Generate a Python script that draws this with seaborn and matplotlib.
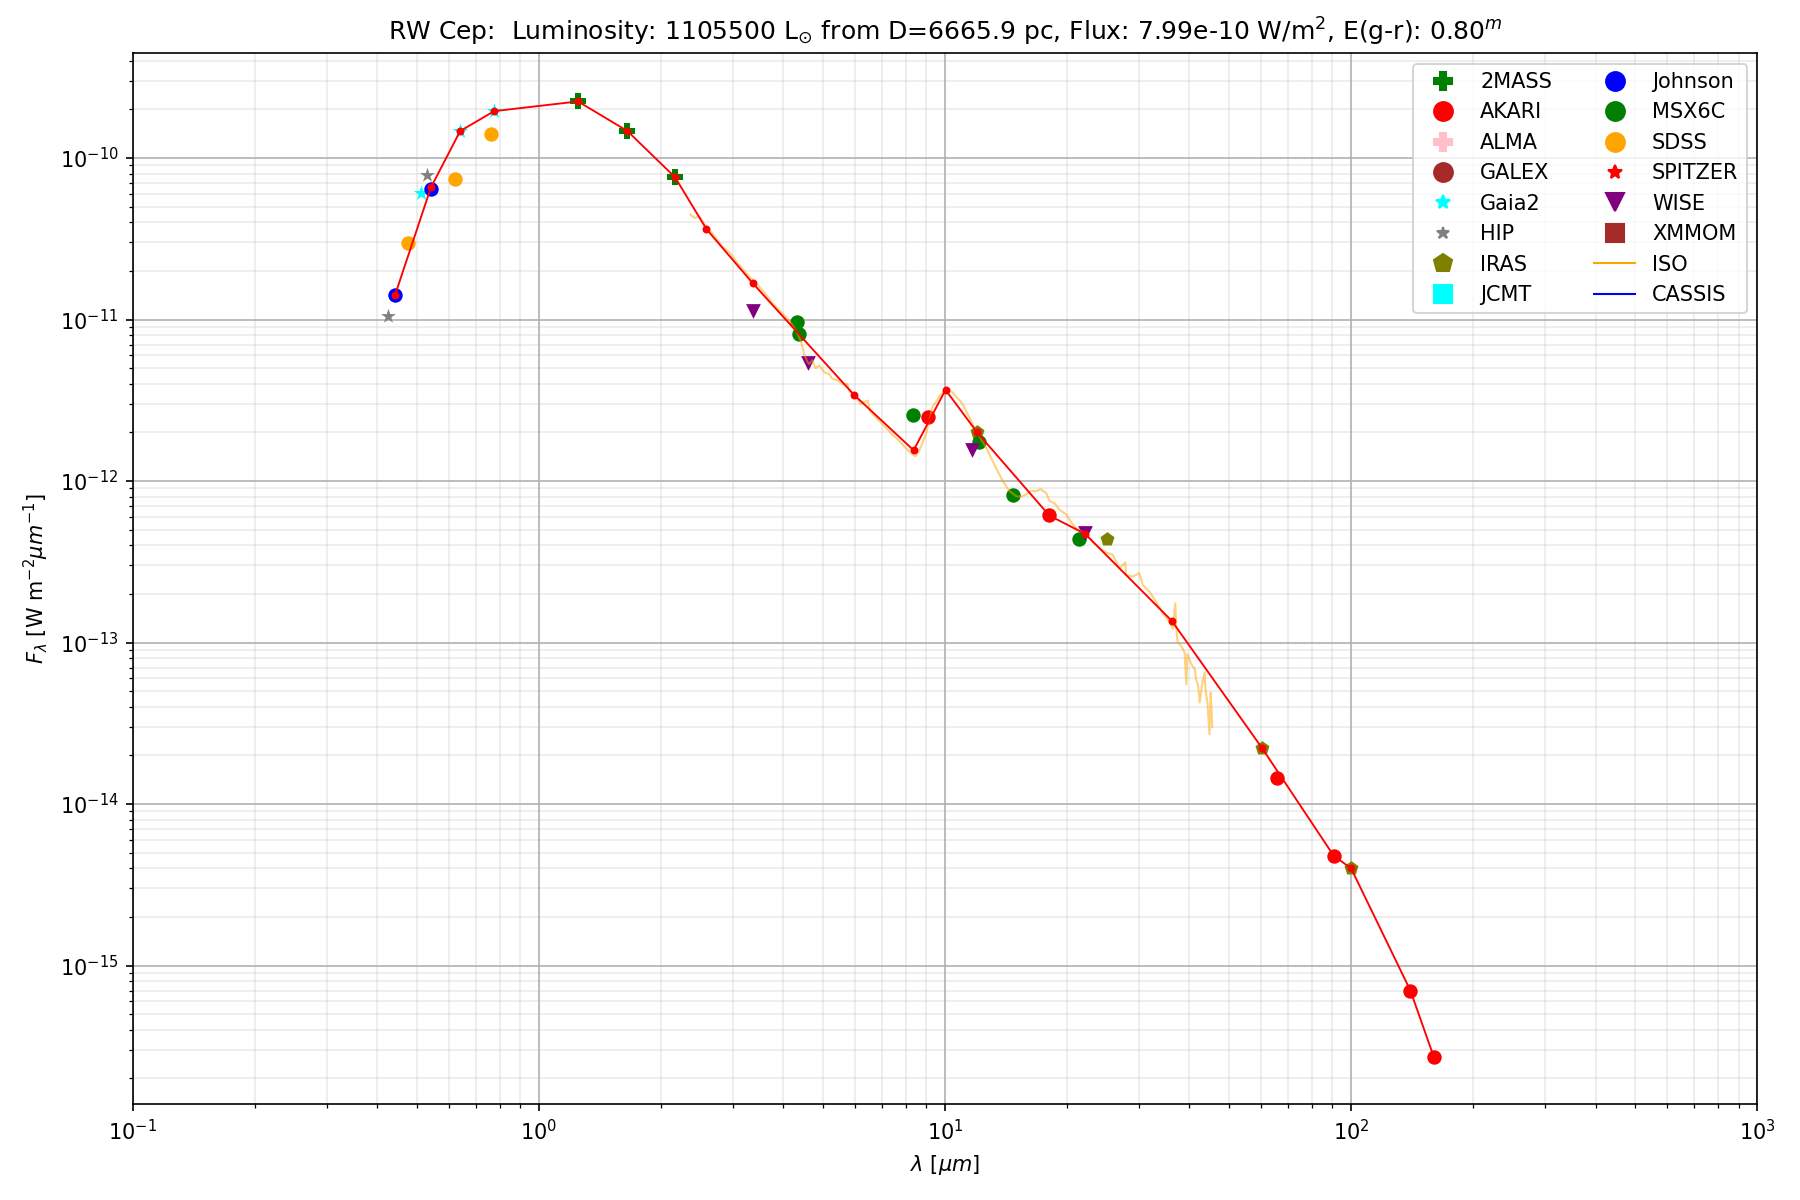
import matplotlib
matplotlib.use("Agg")
import matplotlib.pyplot as plt
from matplotlib.lines import Line2D
import seaborn as sns

plt.rcParams["font.size"] = 10

# photometry (wavelength in micron, flux in W m-2 um-1)
johnson_wl = [0.442, 0.542]
johnson_flux = [1.41e-11, 6.4e-11]
hip_wl = [0.425, 0.530]
hip_flux = [1.05e-11, 7.9e-11]
gaia_wl = [0.513, 0.640, 0.776]
gaia_flux = [6.1e-11, 1.47e-10, 1.95e-10]
sdss_wl = [0.476, 0.622, 0.763]
sdss_flux = [2.97e-11, 7.44e-11, 1.40e-10]
tmass_wl = [1.248, 1.651, 2.164]
tmass_flux = [2.24e-10, 1.47e-10, 7.6e-11]
wise_wl = [3.36, 4.61, 11.63, 22.15]
wise_flux = [1.13e-11, 5.37e-12, 1.55e-12, 4.75e-13]
msx_wl = [4.31, 4.36, 8.32, 12.1, 14.73, 21.4]
msx_flux = [9.66e-12, 8.18e-12, 2.56e-12, 1.75e-12, 8.24e-13, 4.39e-13]
akari_wl = [9.06, 18.06, 65.7, 90.6, 140.0, 160.0]
akari_flux = [2.5e-12, 6.12e-13, 1.46e-14, 4.79e-15, 7.0e-16, 2.7e-16]
iras_wl = [12.0, 25.1, 60.3, 100.0]
iras_flux = [2.01e-12, 4.35e-13, 2.23e-14, 4.0e-15]

# SED line (red)
sed_wl = [0.442, 0.542, 0.640, 0.776, 1.248, 1.651, 2.164, 2.585, 3.36, 5.96,
          8.37, 10.03, 12.0, 18.06, 22.15, 36.2, 60.3, 90.6, 100.0, 140.0, 160.0]
sed_flux = [1.41e-11, 6.57e-11, 1.47e-10, 1.95e-10, 2.24e-10, 1.47e-10, 7.6e-11,
            3.63e-11, 1.68e-11, 3.43e-12, 1.55e-12, 3.67e-12, 2.0e-12, 6.12e-13,
            4.7e-13, 1.36e-13, 2.23e-14, 4.79e-15, 4.0e-15, 7.0e-16, 2.7e-16]

# ISO spectrum
iso_wl = [2.36, 2.42, 2.48, 2.58, 2.70, 2.82, 2.94, 3.10, 3.30, 3.55, 3.75, 3.91,
          4.05, 4.21, 4.33, 4.42, 4.50, 4.58, 4.63, 4.71, 4.80, 4.90, 5.05, 5.18,
          5.28, 5.45, 5.60, 5.75, 5.82, 6.04, 6.20, 6.45, 6.55, 6.63, 6.90, 7.15,
          7.45, 7.72, 8.00, 8.32, 8.45, 8.64, 8.98, 9.31, 9.70, 10.06, 10.44, 11.05,
          11.48, 11.92, 12.30, 12.62, 13.10, 13.87, 14.40, 14.96, 15.40, 15.85,
          16.30, 16.76, 17.20, 17.74, 18.10, 18.60, 19.13, 19.90, 20.40, 21.00,
          21.60, 22.26, 23.10, 24.00, 25.00, 25.90, 26.90, 27.80, 27.90, 29.00,
          30.10, 30.70, 31.90, 33.10, 34.40, 35.70, 36.40, 36.90, 37.10, 37.40,
          38.20, 38.90, 39.30, 39.50, 39.90, 40.60, 41.20, 41.50, 42.00, 42.40,
          43.00, 43.60, 43.80, 44.30, 44.80, 45.10, 45.40, 45.50]
iso_flux = [4.46e-11, 4.25e-11, 4.36e-11, 3.77e-11, 3.30e-11, 2.85e-11, 2.62e-11,
            2.20e-11, 1.84e-11, 1.52e-11, 1.27e-11, 1.14e-11, 1.04e-11, 9.3e-12,
            8.2e-12, 7.3e-12, 6.1e-12, 5.5e-12, 5.3e-12, 5.6e-12, 5.0e-12, 5.2e-12,
            4.7e-12, 4.6e-12, 4.3e-12, 4.2e-12, 3.95e-12, 4.0e-12, 3.6e-12, 3.3e-12,
            3.0e-12, 3.15e-12, 2.7e-12, 2.6e-12, 2.35e-12, 2.14e-12, 1.92e-12,
            1.77e-12, 1.60e-12, 1.46e-12, 1.42e-12, 1.54e-12, 1.95e-12, 2.86e-12,
            3.35e-12, 3.72e-12, 3.54e-12, 3.0e-12, 2.48e-12, 2.05e-12, 1.80e-12,
            1.61e-12, 1.33e-12, 1.0e-12, 8.7e-13, 8.06e-13, 8.0e-13, 8.26e-13,
            8.7e-13, 8.66e-13, 8.9e-13, 8.45e-13, 7.5e-13, 7.3e-13, 6.65e-13,
            6.19e-13, 5.6e-13, 5.11e-13, 4.9e-13, 4.65e-13, 4.2e-13, 3.84e-13,
            3.6e-13, 3.49e-13, 2.88e-13, 3.14e-13, 2.62e-13, 2.56e-13, 2.69e-13,
            2.27e-13, 2.06e-13, 1.79e-13, 1.51e-13, 1.34e-13, 1.22e-13, 1.75e-13,
            1.25e-13, 1.0e-13, 9.5e-14, 8.7e-14, 5.5e-14, 8.5e-14, 7.95e-14,
            7.2e-14, 6.88e-14, 5.96e-14, 5.4e-14, 4.26e-14, 5.6e-14, 6.55e-14,
            5.15e-14, 4.2e-14, 2.7e-14, 4.9e-14, 3.6e-14, 3.0e-14]

# legend entries: name, marker, colour, legend marker size
catalogs = ["2MASS", "AKARI", "ALMA", "GALEX", "Gaia2", "HIP", "IRAS", "JCMT",
            "Johnson", "MSX6C", "SDSS", "SPITZER", "WISE", "XMMOM"]
cat_markers = ["P", "o", "P", "o", "*", "*", "p", "s",
               "o", "o", "o", "*", "v", "s"]
cat_colors = ["green", "red", "pink", "brown", "cyan", "grey", "olive", "cyan",
              "blue", "green", "orange", "red", "purple", "brown"]
legend_ms = [9, 9, 9, 9, 7, 6, 9, 9, 9, 9, 9, 7, 9, 9]

phot = {
    "2MASS": (tmass_wl, tmass_flux, 55),
    "AKARI": (akari_wl, akari_flux, 48),
    "Gaia2": (gaia_wl, gaia_flux, 60),
    "HIP": (hip_wl, hip_flux, 55),
    "IRAS": (iras_wl, iras_flux, 50),
    "Johnson": (johnson_wl, johnson_flux, 48),
    "MSX6C": (msx_wl, msx_flux, 48),
    "SDSS": (sdss_wl, sdss_flux, 48),
    "WISE": (wise_wl, wise_flux, 50),
}

fig = plt.figure(figsize=(12, 8), dpi=150)
ax = fig.add_axes([0.0738, 0.0796, 0.9024, 0.876])
ax.set_xscale("log")
ax.set_yscale("log")

for name, marker, color in zip(catalogs, cat_markers, cat_colors):
    if name not in phot:
        continue
    wl, flux, size = phot[name]
    sns.scatterplot(x=wl, y=flux, marker=marker, color=color, s=size,
                    linewidth=0, ax=ax, legend=False, zorder=2)

sns.lineplot(x=iso_wl, y=iso_flux, sort=False, estimator=None, color="orange",
             alpha=0.5, lw=1.0, ax=ax, zorder=3)
sns.lineplot(x=sed_wl, y=sed_flux, sort=False, estimator=None, color="red",
             lw=0.9, marker="o", markersize=3.8, markeredgewidth=0, ax=ax, zorder=4)

ax.set_xlim(0.1, 1000)
ax.set_ylim(1.38e-16, 4.45e-10)
ax.grid(True, which="major", color="#b0b0b0", lw=0.8)
ax.grid(True, which="minor", color="#b0b0b0", lw=0.8, alpha=0.25)

handles = [Line2D([], [], ls="none", marker=m, color=c, ms=ms, label=n)
           for n, m, c, ms in zip(catalogs, cat_markers, cat_colors, legend_ms)]
handles.append(Line2D([], [], color="orange", lw=1.0, label="ISO"))
handles.append(Line2D([], [], color="blue", lw=1.0, label="CASSIS"))
ax.legend(handles=handles, loc="upper right", ncol=2, fontsize=10)

ax.set_xlabel(r"$\lambda$ [$\mu m$]")
ax.set_ylabel(r"$F_{\lambda}$ [W m$^{-2}\mu m^{-1}$]")
ax.set_title(r"RW Cep:  Luminosity: 1105500 L$_{\odot}$ from D=6665.9 pc, "
             r"Flux: 7.99e-10 W/m$^{2}$, E(g-r): 0.80$^{m}$", fontsize=12)

fig.savefig("out.png", dpi=150)
